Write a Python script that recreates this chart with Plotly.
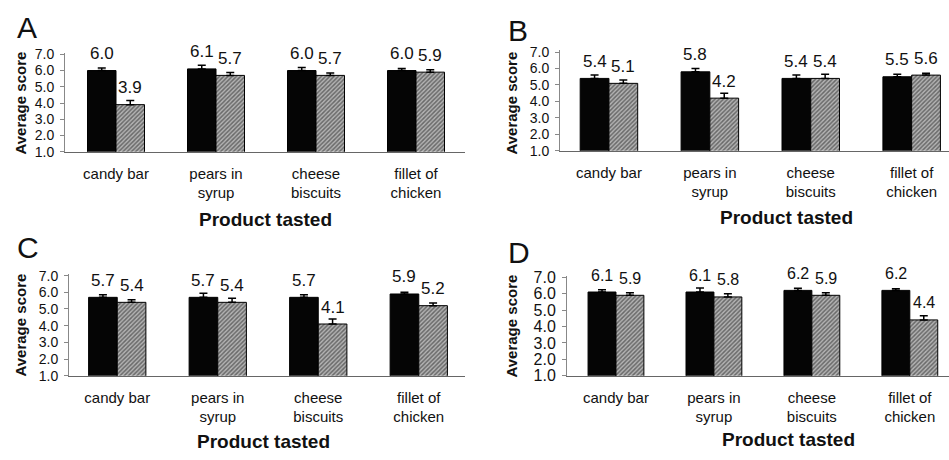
import plotly.graph_objects as go

# Products tasted (x categories) and their two-line tick labels
categories = ["candy bar", "pears in syrup", "cheese biscuits", "fillet of chicken"]
tick_text = ["candy bar", "pears in<br>syrup", "cheese<br>biscuits", "fillet of<br>chicken"]
y_ticks = [1.0, 2.0, 3.0, 4.0, 5.0, 6.0, 7.0]

# Average scores per panel: solid = first condition, hatched = second condition
solid_A = [6.0, 6.1, 6.0, 6.0]
hatched_A = [3.9, 5.7, 5.7, 5.9]
solid_B = [5.4, 5.8, 5.4, 5.5]
hatched_B = [5.1, 4.2, 5.4, 5.6]
solid_C = [5.7, 5.7, 5.7, 5.9]
hatched_C = [5.4, 5.4, 4.1, 5.2]
solid_D = [6.1, 6.1, 6.2, 6.2]
hatched_D = [5.9, 5.8, 5.9, 4.4]

# Standard errors
solid_err_A = [0.15, 0.22, 0.18, 0.12]
hatched_err_A = [0.25, 0.18, 0.15, 0.15]
solid_err_B = [0.2, 0.2, 0.2, 0.16]
hatched_err_B = [0.2, 0.3, 0.25, 0.12]
solid_err_C = [0.15, 0.25, 0.15, 0.1]
hatched_err_C = [0.15, 0.25, 0.3, 0.16]
solid_err_D = [0.14, 0.25, 0.13, 0.1]
hatched_err_D = [0.15, 0.2, 0.16, 0.25]

W, H = 949, 460
FONT = "Liberation Sans, Arial, Helvetica, sans-serif"
INK = "#111111"
BAR_W = 0.285

panels = [
    dict(letter="A", solid=solid_A, hatched=hatched_A, se=solid_err_A, he=hatched_err_A,
         px_x=(65, 465), px_y=(150, 47.3), xr=(-0.51, 3.49),
         letter_pos=(15, 21.5), ytitle_pos=(21, 100), xtitle_pos=(265, 220),
         tick_size=14, val_size=17),
    dict(letter="B", solid=solid_B, hatched=hatched_B, se=solid_err_B, he=hatched_err_B,
         px_x=(560, 949), px_y=(149, 45), xr=(-0.485, 3.37),
         letter_pos=(506, 24), ytitle_pos=(512, 99), xtitle_pos=(786, 218),
         tick_size=14, val_size=17),
    dict(letter="C", solid=solid_C, hatched=hatched_C, se=solid_err_C, he=hatched_err_C,
         px_x=(69, 465), px_y=(382, 276.6), xr=(-0.48, 3.46),
         letter_pos=(15, 249), ytitle_pos=(21, 330), xtitle_pos=(263, 450),
         tick_size=14, val_size=17),
    dict(letter="D", solid=solid_D, hatched=hatched_D, se=solid_err_D, he=hatched_err_D,
         px_x=(567, 949), px_y=(382, 278.3), xr=(-0.5, 3.4),
         letter_pos=(506, 254), ytitle_pos=(512, 330), xtitle_pos=(788, 448),
         tick_size=16, val_size=16),
]

fig = go.Figure()
annotations = []
layout_axes = {}
positions = list(range(len(categories)))
no_lower = [0] * len(categories)

for k, p in enumerate(panels, start=1):
    xa = "x" if k == 1 else f"x{k}"
    ya = "y" if k == 1 else f"y{k}"
    xkey = "xaxis" if k == 1 else f"xaxis{k}"
    ykey = "yaxis" if k == 1 else f"yaxis{k}"

    # only the upper whisker shows above each bar
    fig.add_trace(go.Bar(
        x=positions, y=p["solid"], width=BAR_W, offset=-BAR_W,
        marker=dict(color="#050505", line=dict(color="#000000", width=1)),
        error_y=dict(type="data", symmetric=False, array=p["se"], arrayminus=no_lower,
                     color="#000000", thickness=1.5, width=4),
        xaxis=xa, yaxis=ya, showlegend=False,
    ))
    fig.add_trace(go.Bar(
        x=positions, y=p["hatched"], width=BAR_W, offset=0,
        marker=dict(color="#9a9a9a", line=dict(color="#000000", width=1),
                    pattern=dict(shape="/", fgcolor="#1e1e1e", bgcolor="#b4b4b4",
                                 size=3, solidity=0.5)),
        error_y=dict(type="data", symmetric=False, array=p["he"], arrayminus=no_lower,
                     color="#000000", thickness=1.5, width=4),
        xaxis=xa, yaxis=ya, showlegend=False,
    ))

    x0, x1 = p["px_x"]
    yb, yt = p["px_y"]
    xdom = [x0 / W, min(x1 / W, 1.0)]
    ydom = [1 - yb / H, 1 - yt / H]

    layout_axes[xkey] = dict(
        domain=xdom, anchor=ya, range=list(p["xr"]),
        tickvals=positions, ticktext=tick_text, ticks="",
        ticklabelstandoff=8,
        tickfont=dict(family=FONT, size=15, color=INK),
        showline=True, linecolor="#666666", linewidth=1.3,
        showgrid=False, zeroline=False, fixedrange=True,
    )
    layout_axes[ykey] = dict(
        domain=ydom, anchor=xa, range=[1.0, 7.1],
        tickvals=y_ticks, tickformat=".1f", ticks="outside", ticklen=4,
        tickcolor="#888888", tickwidth=1, ticklabelstandoff=3,
        tickfont=dict(family=FONT, size=p["tick_size"], color=INK),
        showline=True, linecolor="#888888", linewidth=1,
        showgrid=False, zeroline=False, fixedrange=True,
    )
    # inner half of the cross-shaped tick marks
    layout_axes[f"yaxis{k + 4}"] = dict(
        overlaying=ya, anchor=xa, range=[1.0, 7.1], tickvals=y_ticks,
        ticks="inside", ticklen=4, tickcolor="#888888", tickwidth=1,
        showticklabels=False, showline=False, showgrid=False, zeroline=False,
        fixedrange=True,
    )

    # value labels above every bar
    for i, (sv, hv) in enumerate(zip(p["solid"], p["hatched"])):
        for xv, v in ((positions[i] - BAR_W / 2, sv), (positions[i] + BAR_W / 2, hv)):
            annotations.append(dict(
                x=xv, y=v, xref=xa, yref=ya, text=f"{v:.1f}", showarrow=False,
                yanchor="middle", xanchor="center", yshift=17,
                font=dict(family=FONT, size=p["val_size"], color=INK),
            ))

    lx, ly = p["letter_pos"]
    annotations.append(dict(
        x=lx / W, y=1 - ly / H, xref="paper", yref="paper", text=p["letter"],
        showarrow=False, xanchor="left", yanchor="middle",
        font=dict(family=FONT, size=30, color=INK),
    ))
    tx, ty = p["ytitle_pos"]
    annotations.append(dict(
        x=tx / W, y=1 - ty / H, xref="paper", yref="paper", text="<b>Average score</b>",
        showarrow=False, xanchor="center", yanchor="middle", textangle=-90,
        font=dict(family=FONT, size=15, color=INK),
    ))
    gx, gy = p["xtitle_pos"]
    annotations.append(dict(
        x=gx / W, y=1 - gy / H, xref="paper", yref="paper", text="<b>Product tasted</b>",
        showarrow=False, xanchor="center", yanchor="middle",
        font=dict(family=FONT, size=19, color=INK),
    ))

fig.update_layout(
    width=W, height=H,
    margin=dict(l=0, r=0, t=0, b=0),
    paper_bgcolor="white", plot_bgcolor="white",
    barmode="overlay",
    annotations=annotations,
    **layout_axes,
)

fig.write_html("out.html", config={"displayModeBar": False})
